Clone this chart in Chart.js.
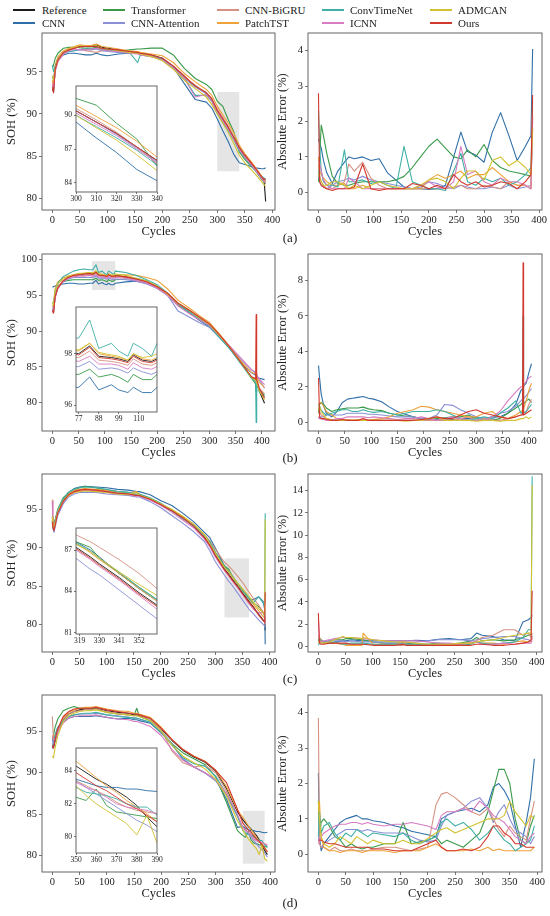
<!DOCTYPE html>
<html>
<head>
<meta charset="utf-8">
<script src="https://cdn.jsdelivr.net/npm/chart.js@4.4.1/dist/chart.umd.min.js"></script>
<style>
  body { margin: 0; background: #fff; width: 550px; height: 916px; position: relative; overflow: hidden;
         font-family: "Liberation Serif", "Times New Roman", serif; color: #222; }
  .cv { position: absolute; }
  .lab { position: absolute; font-size: 13px; transform: translate(-50%, -50%); white-space: nowrap; }
  .lg-line { position: absolute; height: 1.3px; width: 22px; }
  .lg-text { position: absolute; font-size: 11px; transform: translateY(-50%); white-space: nowrap; }
</style>
</head>
<body>
<script>
// ---- series ----
const seriesNames = ['Reference', 'CNN', 'Transformer', 'CNN-Attention', 'CNN-BiGRU', 'PatchTST', 'ConvTimeNet', 'ICNN', 'ADMCAN', 'Ours'];
const seriesColors = ['#1c1c1c', '#2f6fa8', '#3a9a4a', '#8a8fd6', '#d59282', '#eda23a', '#3fb0a5', '#d77cc0', '#d2c232', '#d2392e'];
const cycleTicks = [0, 50, 100, 150, 200, 250, 300, 350, 400];

// ---- (a) SOH ----
const cycA = [0, 2, 5, 10, 20, 30, 40, 50, 60, 70, 80, 90, 100, 120, 140, 155, 160, 180, 200, 220, 240, 260, 280, 290, 300, 310, 320, 330, 340, 350, 360, 370, 380, 385, 388];
const sohA_ref = [93.0, 92.6, 95.3, 96.4, 97.3, 97.6, 97.8, 98.0, 98.0, 98.0, 98.2, 97.9, 97.8, 97.6, 97.4, 97.3, 97.2, 97.0, 96.6, 95.6, 94.4, 93.3, 92.5, 91.7, 90.4, 89.4, 88.4, 87.2, 86.0, 85.1, 84.3, 83.5, 82.6, 82.2, 79.6];
const sohA_cnn = [94.5, 94.0, 95.6, 96.5, 97.0, 97.2, 97.2, 97.1, 97.0, 97.0, 97.2, 97.0, 96.9, 97.1, 97.2, 97.2, 97.1, 96.9, 96.6, 95.5, 93.6, 91.7, 91.4, 90.7, 89.4, 88.0, 86.7, 85.2, 84.2, 84.0, 83.8, 83.6, 83.5, 83.5, 83.6];
const sohA_trans = [95.5, 95.8, 96.6, 97.2, 97.8, 97.9, 97.9, 97.9, 97.8, 97.8, 97.9, 97.7, 97.6, 97.4, 97.6, 97.7, 97.7, 97.8, 97.8, 97.0, 95.4, 94.2, 93.5, 92.9, 91.5, 90.9, 89.3, 87.9, 85.5, 84.6, 83.9, 83.2, 82.3, 81.9, 81.8];
const sohA_attn = [93.5, 93.0, 95.5, 96.6, 97.2, 97.4, 97.5, 97.6, 97.6, 97.6, 97.7, 97.5, 97.4, 97.3, 97.2, 97.2, 97.1, 96.9, 96.4, 95.4, 94.2, 93.2, 92.4, 91.6, 90.4, 89.4, 88.3, 87.1, 85.9, 85.0, 84.2, 83.3, 82.4, 82.0, 81.9];
const sohA_bigru = [93.8, 93.2, 95.6, 96.6, 97.3, 97.6, 97.8, 98.0, 97.5, 97.4, 97.3, 97.5, 97.6, 97.5, 97.3, 97.2, 97.1, 96.9, 96.5, 95.5, 94.3, 93.4, 92.5, 91.8, 90.6, 89.6, 88.5, 87.2, 85.7, 84.9, 84.1, 83.3, 82.5, 82.1, 81.7];
const sohA_patch = [94.0, 93.5, 95.8, 96.8, 97.5, 97.8, 98.0, 98.2, 98.1, 98.1, 98.3, 98.0, 97.9, 97.7, 97.5, 97.4, 97.3, 97.1, 96.9, 96.1, 94.8, 93.8, 92.9, 92.2, 90.9, 89.9, 88.9, 87.7, 86.3, 85.3, 84.5, 83.6, 82.7, 82.3, 82.0];
const sohA_conv = [95.8, 95.0, 95.6, 96.5, 97.2, 97.4, 97.5, 97.7, 97.7, 97.7, 97.8, 97.6, 97.6, 97.5, 97.3, 96.1, 97.0, 96.8, 96.5, 95.5, 94.2, 92.2, 92.2, 91.5, 90.0, 89.0, 88.0, 86.9, 85.6, 84.8, 84.0, 83.3, 82.6, 82.4, 82.2];
const sohA_icnn = [93.5, 93.0, 95.0, 96.2, 97.1, 97.5, 97.7, 97.6, 97.6, 97.7, 97.8, 97.6, 97.5, 97.4, 97.2, 97.1, 97.0, 96.8, 96.4, 95.5, 94.2, 92.0, 92.3, 91.5, 90.2, 89.2, 88.2, 87.0, 85.8, 84.9, 84.1, 83.3, 82.4, 82.0, 82.0];
const sohA_admcan = [94.5, 94.0, 95.4, 96.5, 97.3, 97.7, 97.9, 98.1, 98.0, 98.0, 98.1, 97.8, 97.7, 97.5, 97.3, 97.2, 97.1, 96.8, 96.3, 95.3, 94.0, 93.0, 92.0, 91.1, 90.0, 88.9, 87.8, 86.5, 85.1, 84.2, 83.5, 82.8, 82.0, 81.6, 81.4];
const sohA_ours = [93.2, 92.5, 95.3, 96.4, 97.3, 97.6, 97.8, 98.0, 98.0, 98.0, 98.0, 97.8, 97.7, 97.6, 97.4, 97.3, 97.2, 97.0, 96.6, 95.7, 94.5, 93.3, 92.5, 91.8, 90.4, 89.4, 88.4, 87.2, 86.0, 85.1, 84.3, 83.5, 82.6, 82.2, 82.3];

// ---- (a) absolute error ----
const errCycA = [0, 2, 5, 9, 15, 25, 35, 47, 55, 65, 80, 95, 110, 125, 140, 155, 170, 185, 200, 215, 230, 245, 258, 270, 285, 300, 315, 330, 345, 360, 375, 385, 388];
const errA_cnn = [1.5, 1.4, 1.25, 0.9, 0.55, 0.25, 0.6, 0.85, 1.0, 0.95, 1.0, 0.9, 0.95, 0.55, 0.35, 0.15, 0.1, 0.1, 0.08, 0.1, 0.2, 1.0, 1.7, 1.15, 1.05, 0.85, 1.7, 2.25, 1.6, 0.9, 1.3, 1.6, 4.05];
const errA_trans = [0.3, 1.0, 1.9, 1.6, 1.1, 0.45, 0.25, 0.2, 0.2, 0.25, 0.3, 0.3, 0.3, 0.3, 0.35, 0.45, 0.7, 1.0, 1.3, 1.5, 1.25, 1.0, 0.95, 1.2, 1.0, 1.35, 0.9, 0.7, 0.6, 0.55, 0.5, 0.45, 2.0];
const errA_attn = [0.5, 0.3, 0.2, 0.15, 0.1, 0.2, 0.3, 0.35, 0.4, 0.35, 0.45, 0.35, 0.3, 0.25, 0.2, 0.15, 0.1, 0.15, 0.3, 0.25, 0.15, 0.1, 0.2, 0.15, 0.1, 0.1, 0.15, 0.1, 0.2, 0.1, 0.15, 0.2, 1.8];
const errA_bigru = [0.8, 0.5, 0.3, 0.2, 0.1, 0.1, 0.2, 0.3, 0.8, 0.6, 0.85, 0.4, 0.2, 0.1, 0.1, 0.1, 0.1, 0.1, 0.1, 0.1, 0.1, 0.15, 0.2, 0.1, 0.1, 0.2, 0.15, 0.1, 0.3, 0.2, 0.2, 0.1, 2.1];
const errA_patch = [1.0, 0.6, 0.5, 0.4, 0.3, 0.2, 0.2, 0.25, 0.1, 0.1, 0.2, 0.1, 0.1, 0.1, 0.1, 0.1, 0.1, 0.1, 0.35, 0.5, 0.4, 0.5, 0.6, 0.4, 0.5, 0.5, 0.7, 0.5, 0.3, 0.2, 0.2, 0.1, 2.4];
const errA_conv = [2.3, 1.3, 0.6, 0.3, 0.2, 0.2, 0.15, 1.2, 0.3, 0.3, 0.35, 0.25, 0.3, 0.2, 0.1, 1.3, 0.3, 0.2, 0.1, 0.1, 0.05, 0.6, 1.1, 0.3, 0.2, 0.4, 0.3, 0.4, 0.2, 0.3, 0.5, 0.7, 2.6];
const errA_icnn = [0.9, 0.8, 0.6, 0.35, 0.2, 0.1, 0.1, 0.1, 0.4, 0.3, 0.1, 0.1, 0.1, 0.1, 0.1, 0.1, 0.1, 0.2, 0.3, 0.15, 0.1, 0.3, 1.3, 0.5, 0.6, 0.3, 0.2, 0.4, 0.3, 0.3, 0.2, 0.1, 2.2];
const errA_admcan = [0.5, 0.4, 0.3, 0.2, 0.2, 0.3, 0.3, 0.2, 0.1, 0.2, 0.1, 0.2, 0.3, 0.2, 0.15, 0.1, 0.1, 0.2, 0.35, 0.4, 0.3, 0.1, 0.4, 0.6, 0.6, 0.35, 0.9, 1.0, 0.75, 0.9, 0.7, 0.5, 1.8];
const errA_ours = [2.8, 0.3, 0.2, 0.15, 0.1, 0.05, 0.1, 0.1, 0.1, 0.15, 0.8, 0.1, 0.05, 0.1, 0.1, 0.1, 0.25, 0.2, 0.1, 0.2, 0.1, 0.5, 0.3, 0.2, 0.3, 0.15, 0.2, 0.3, 0.25, 0.1, 0.3, 0.5, 2.75];

// ---- (b) SOH ----
const cycB = [0, 2, 5, 10, 20, 30, 40, 50, 60, 70, 77, 83, 88, 95, 99, 104, 107, 112, 117, 120, 140, 160, 180, 200, 220, 240, 260, 280, 300, 320, 340, 360, 380, 388, 389, 390, 395, 405];
const sohB_ref = [93.0, 92.6, 94.8, 96.0, 97.0, 97.5, 97.8, 97.9, 98.0, 98.1, 98.0, 98.3, 97.9, 97.85, 97.8, 97.7, 97.95, 97.75, 97.7, 97.8, 97.6, 97.3, 96.9, 96.2, 95.2, 93.8, 92.9, 91.9, 90.9, 89.3, 87.6, 85.6, 83.5, 83.3, 83.2, 83.0, 81.6, 79.9];
const sohB_cnn = [96.2, 96.2, 96.3, 96.4, 96.6, 96.7, 96.7, 96.6, 96.6, 96.7, 96.7, 97.1, 96.6, 96.8, 96.6, 96.5, 96.7, 96.5, 96.5, 96.7, 96.9, 97.0, 96.7, 96.0, 95.0, 93.6, 92.7, 91.5, 90.6, 89.1, 87.4, 85.5, 84.2, 83.8, 83.7, 83.6, 83.4, 83.2];
const sohB_trans = [93.5, 93.5, 95.0, 96.2, 96.9, 97.1, 97.2, 97.2, 97.2, 97.2, 97.2, 97.4, 97.1, 97.2, 97.1, 96.9, 97.2, 97.0, 97.0, 97.2, 97.3, 97.4, 97.0, 96.1, 95.0, 93.6, 92.7, 91.7, 90.8, 89.4, 87.7, 85.7, 83.4, 82.6, 81.5, 83.0, 81.8, 81.0];
const sohB_attn = [93.2, 93.0, 94.8, 96.0, 96.9, 97.3, 97.5, 97.5, 97.5, 97.5, 97.5, 97.7, 97.4, 97.45, 97.4, 97.25, 97.45, 97.3, 97.2, 97.3, 97.2, 97.0, 96.6, 96.0, 95.0, 92.8, 92.0, 91.2, 90.5, 89.0, 87.7, 86.0, 84.6, 84.2, 84.0, 83.8, 83.2, 82.0];
const sohB_bigru = [93.5, 93.2, 95.0, 96.2, 97.0, 97.5, 97.7, 97.8, 97.8, 97.9, 97.85, 98.1, 97.75, 97.7, 97.65, 97.55, 97.8, 97.6, 97.55, 97.65, 97.5, 97.2, 96.8, 96.1, 95.1, 93.7, 92.8, 91.8, 90.8, 89.2, 87.5, 85.5, 83.6, 83.4, 83.4, 83.2, 82.0, 81.2];
const sohB_patch = [94.0, 94.0, 95.9, 96.9, 97.4, 97.7, 97.9, 98.0, 98.1, 98.2, 98.1, 98.4, 98.0, 97.9, 97.85, 97.75, 98.0, 97.8, 97.75, 97.85, 97.9, 97.8, 97.5, 97.1, 95.9, 94.3, 93.3, 92.2, 91.2, 89.5, 87.7, 85.8, 84.2, 84.0, 83.9, 83.6, 82.8, 82.1];
const sohB_conv = [94.0, 93.8, 95.5, 96.7, 97.6, 98.0, 98.4, 98.6, 98.7, 98.6, 98.6, 99.3, 98.2, 98.4, 98.1, 97.9, 98.4, 98.2, 97.9, 98.4, 98.2, 97.8, 97.2, 96.5, 95.3, 93.8, 92.7, 91.7, 90.7, 89.0, 87.4, 85.4, 83.4, 83.0, 77.2, 82.8, 81.5, 80.8];
const sohB_icnn = [93.0, 92.8, 94.6, 95.9, 96.9, 97.4, 97.6, 97.7, 97.7, 97.8, 97.7, 97.9, 97.6, 97.6, 97.55, 97.4, 97.65, 97.45, 97.4, 97.5, 97.4, 97.1, 96.7, 96.0, 95.0, 93.5, 92.5, 91.6, 90.8, 89.3, 87.8, 86.2, 84.6, 84.1, 84.0, 83.8, 83.3, 82.5];
const sohB_admcan = [94.0, 93.5, 95.6, 96.6, 97.3, 97.7, 97.9, 98.1, 98.1, 98.2, 98.15, 98.4, 98.05, 97.95, 97.9, 97.75, 98.0, 97.85, 97.9, 98.0, 97.8, 97.4, 97.0, 96.3, 95.2, 93.9, 93.0, 91.9, 90.9, 89.3, 87.6, 85.6, 83.5, 83.1, 83.0, 83.0, 81.7, 80.3];
const sohB_ours = [92.8, 92.5, 94.8, 96.0, 97.0, 97.5, 97.8, 97.9, 98.0, 98.05, 97.95, 98.25, 97.85, 97.8, 97.75, 97.65, 97.9, 97.7, 97.65, 97.75, 97.6, 97.3, 96.9, 96.2, 95.3, 93.9, 93.0, 92.0, 91.0, 89.4, 87.6, 85.6, 83.6, 83.3, 92.3, 83.2, 82.0, 80.6];

// ---- (b) absolute error ----
const errCycB = [0, 2, 5, 10, 15, 25, 35, 45, 55, 65, 75, 85, 95, 105, 120, 135, 150, 165, 180, 195, 210, 225, 240, 255, 270, 285, 300, 315, 330, 345, 360, 375, 385, 388, 389, 390, 395, 400, 405];
const errB_cnn = [3.2, 2.5, 1.6, 0.9, 0.5, 0.3, 0.6, 1.1, 1.3, 1.35, 1.4, 1.45, 1.35, 1.3, 1.15, 0.85, 0.6, 0.45, 0.3, 0.2, 0.1, 0.15, 0.1, 0.15, 0.2, 0.2, 0.3, 0.2, 0.3, 0.3, 0.5, 1.0, 1.8, 1.9, 2.0, 2.0, 2.2, 2.8, 3.3];
const errB_trans = [0.5, 1.0, 1.1, 1.0, 0.8, 0.6, 0.7, 0.75, 0.8, 0.8, 0.8, 0.85, 0.75, 0.7, 0.65, 0.5, 0.4, 0.35, 0.3, 0.2, 0.15, 0.2, 0.25, 0.3, 0.3, 0.4, 0.2, 0.1, 0.1, 0.2, 0.5, 0.8, 1.0, 1.1, 1.0, 1.0, 1.2, 1.3, 1.1];
const errB_attn = [0.2, 0.3, 0.3, 0.3, 0.4, 0.4, 0.4, 0.4, 0.5, 0.5, 0.5, 0.5, 0.45, 0.45, 0.4, 0.35, 0.3, 0.3, 0.3, 0.2, 0.2, 0.4, 1.0, 0.95, 0.7, 0.5, 0.3, 0.2, 0.1, 0.5, 0.6, 0.9, 1.2, 1.3, 1.3, 1.3, 1.5, 1.7, 1.9];
const errB_bigru = [0.5, 0.6, 0.4, 0.3, 0.2, 0.15, 0.1, 0.1, 0.15, 0.1, 0.1, 0.1, 0.1, 0.15, 0.1, 0.1, 0.1, 0.1, 0.1, 0.1, 0.1, 0.1, 0.1, 0.1, 0.2, 0.3, 0.1, 0.2, 0.1, 0.1, 0.2, 0.3, 0.4, 0.5, 0.5, 0.5, 0.6, 1.0, 1.3];
const errB_patch = [1.0, 1.1, 1.1, 0.9, 0.6, 0.4, 0.2, 0.1, 0.1, 0.1, 0.1, 0.1, 0.1, 0.15, 0.2, 0.3, 0.5, 0.6, 0.7, 0.9, 0.85, 0.7, 0.6, 0.5, 0.4, 0.3, 0.3, 0.5, 0.6, 0.3, 0.2, 0.4, 0.6, 0.7, 0.7, 0.7, 1.2, 1.8, 2.2];
const errB_conv = [1.0, 0.9, 0.7, 0.5, 0.4, 0.5, 0.6, 0.7, 0.7, 0.6, 0.6, 0.7, 0.6, 0.55, 0.6, 0.5, 0.4, 0.5, 0.6, 0.6, 0.6, 0.7, 0.6, 0.4, 0.2, 0.1, 0.2, 0.3, 0.2, 0.5, 0.8, 1.2, 0.5, 0.6, 6.0, 0.5, 0.6, 0.8, 1.0];
const errB_icnn = [0.3, 0.2, 0.2, 0.15, 0.1, 0.1, 0.2, 0.2, 0.3, 0.3, 0.3, 0.3, 0.25, 0.3, 0.25, 0.2, 0.15, 0.2, 0.2, 0.3, 0.2, 0.1, 0.2, 0.3, 0.2, 0.1, 0.1, 0.1, 0.3, 0.6, 1.2, 1.7, 2.0, 2.0, 2.0, 2.1, 2.3, 2.5, 2.6];
const errB_admcan = [0.7, 0.9, 0.6, 0.4, 0.2, 0.1, 0.1, 0.1, 0.1, 0.1, 0.15, 0.1, 0.1, 0.1, 0.1, 0.1, 0.1, 0.05, 0.1, 0.1, 0.2, 0.3, 0.1, 0.1, 0.1, 0.1, 0.05, 0.1, 0.1, 0.05, 0.1, 0.1, 0.2, 0.2, 0.2, 0.2, 0.3, 0.2, 0.3];
const errB_ours = [2.5, 0.3, 0.2, 0.2, 0.15, 0.1, 0.1, 0.15, 0.1, 0.1, 0.1, 0.2, 0.1, 0.1, 0.1, 0.1, 0.1, 0.1, 0.1, 0.15, 0.2, 0.3, 0.2, 0.2, 0.4, 0.6, 0.7, 0.5, 0.4, 0.3, 0.2, 0.3, 0.4, 0.4, 9.0, 0.4, 0.5, 0.6, 0.7];

// ---- (c) SOH ----
const cycC = [0, 1, 3, 10, 20, 30, 40, 50, 60, 80, 100, 120, 140, 155, 160, 180, 200, 220, 240, 260, 280, 290, 300, 317, 325, 330, 341, 352, 362, 370, 380, 388, 391, 392];
const sohC_ref = [93.5, 92.8, 92.3, 94.6, 96.0, 96.9, 97.3, 97.5, 97.6, 97.5, 97.3, 97.1, 97.0, 96.8, 96.8, 96.3, 95.6, 94.8, 93.9, 92.8, 91.3, 90.3, 89.0, 87.2, 86.5, 86.0, 85.0, 83.9, 83.0, 82.3, 81.3, 80.6, 80.4, 79.2];
const sohC_cnn = [94.0, 93.5, 93.0, 94.8, 96.3, 97.2, 97.7, 97.9, 98.0, 97.9, 97.8, 97.6, 97.5, 97.3, 97.3, 96.9, 96.1, 95.5, 94.5, 93.4, 92.0, 91.3, 90.0, 87.6, 87.0, 86.5, 85.3, 84.2, 83.3, 83.2, 83.6, 83.0, 82.0, 77.4];
const sohC_trans = [94.0, 93.5, 93.0, 95.0, 96.5, 97.2, 97.6, 97.8, 98.0, 97.8, 97.5, 97.3, 97.2, 96.9, 96.9, 96.4, 95.7, 94.9, 93.8, 92.9, 91.6, 90.8, 89.4, 87.6, 87.2, 86.4, 85.3, 84.3, 83.4, 82.8, 82.3, 81.6, 81.0, 80.0];
const sohC_attn = [93.0, 92.5, 92.0, 94.2, 95.7, 96.6, 97.0, 97.2, 97.2, 97.2, 97.0, 96.9, 96.8, 96.6, 96.6, 96.0, 95.2, 94.2, 93.2, 92.1, 90.8, 89.6, 88.2, 86.4, 85.6, 85.2, 84.1, 83.0, 82.0, 81.4, 80.6, 80.0, 79.8, 79.6];
const sohC_bigru = [96.2, 93.5, 92.8, 94.9, 96.3, 97.1, 97.5, 97.6, 97.6, 97.5, 97.4, 97.2, 97.1, 96.9, 96.9, 96.4, 95.7, 94.9, 94.0, 93.0, 91.7, 90.9, 89.8, 88.1, 87.6, 87.2, 86.3, 85.3, 84.2, 83.4, 82.5, 81.6, 81.2, 80.4];
const sohC_patch = [93.8, 93.0, 92.5, 94.8, 96.2, 97.0, 97.4, 97.6, 97.7, 97.6, 97.5, 97.3, 97.1, 97.3, 97.0, 96.4, 95.7, 94.9, 94.1, 93.0, 91.6, 90.6, 89.3, 87.5, 86.8, 86.3, 85.3, 84.2, 83.3, 82.6, 81.8, 81.0, 80.8, 80.0];
const sohC_conv = [93.5, 93.0, 92.7, 94.9, 96.3, 97.2, 97.6, 97.8, 97.9, 97.8, 97.6, 97.3, 97.2, 97.0, 97.0, 96.5, 95.8, 94.8, 93.8, 92.9, 91.5, 90.8, 89.4, 87.5, 86.9, 86.4, 85.4, 84.3, 83.4, 82.8, 83.6, 82.8, 82.5, 94.5];
const sohC_icnn = [96.0, 93.0, 92.5, 94.5, 95.9, 96.8, 97.2, 97.4, 97.5, 97.4, 97.2, 97.0, 96.9, 96.7, 96.7, 96.2, 95.5, 94.6, 93.6, 92.6, 91.1, 90.1, 88.8, 87.0, 86.3, 85.8, 84.8, 83.7, 82.7, 82.0, 81.5, 81.5, 81.2, 80.0];
const sohC_admcan = [94.0, 93.2, 92.6, 94.6, 96.0, 96.8, 97.2, 97.3, 97.4, 97.3, 97.2, 97.0, 96.9, 97.2, 96.8, 96.4, 95.7, 95.0, 94.1, 93.1, 91.7, 90.5, 89.3, 87.4, 86.9, 86.4, 85.4, 84.5, 83.7, 82.9, 82.1, 81.5, 81.2, 93.7];
const sohC_ours = [93.3, 92.7, 92.2, 94.5, 96.0, 96.9, 97.3, 97.5, 97.6, 97.5, 97.3, 97.1, 97.0, 96.8, 96.8, 96.3, 95.6, 94.8, 93.9, 92.8, 91.3, 90.3, 89.0, 87.1, 86.4, 85.9, 84.9, 83.8, 82.9, 82.2, 81.2, 80.5, 80.3, 84.2];

// ---- (c) absolute error ----
const errCycC = [0, 2, 5, 10, 20, 30, 45, 50, 60, 80, 82, 100, 120, 140, 155, 160, 180, 200, 220, 240, 260, 280, 290, 300, 320, 340, 360, 375, 385, 390, 392];
const errC_cnn = [0.5, 0.7, 0.4, 0.3, 0.3, 0.4, 0.5, 0.5, 0.6, 0.5, 0.5, 0.5, 0.5, 0.5, 0.5, 0.5, 0.55, 0.5, 0.65, 0.7, 0.6, 0.7, 1.2, 1.0, 0.9, 0.6, 0.5, 2.2, 2.4, 2.6, 2.8];
const errC_trans = [0.5, 0.8, 0.6, 0.4, 0.5, 0.6, 0.6, 0.7, 0.7, 0.6, 0.6, 0.4, 0.3, 0.3, 0.3, 0.3, 0.2, 0.2, 0.3, 0.2, 0.3, 0.5, 0.8, 0.5, 0.6, 0.5, 0.6, 0.8, 1.0, 1.1, 0.8];
const errC_attn = [0.5, 0.4, 0.3, 0.4, 0.5, 0.5, 0.5, 0.4, 0.5, 0.4, 0.4, 0.4, 0.3, 0.3, 0.3, 0.3, 0.4, 0.5, 0.6, 0.6, 0.6, 0.5, 0.6, 0.7, 0.8, 0.9, 0.9, 0.7, 0.6, 0.5, 0.4];
const errC_bigru = [1.0, 0.8, 0.5, 0.3, 0.3, 0.3, 0.2, 0.2, 0.2, 0.2, 0.2, 0.15, 0.1, 0.1, 0.1, 0.15, 0.1, 0.1, 0.1, 0.1, 0.2, 0.3, 0.5, 0.8, 1.0, 1.5, 1.5, 1.0, 1.2, 0.8, 1.2];
const errC_patch = [0.3, 0.4, 0.4, 0.3, 0.3, 0.3, 0.2, 0.1, 0.1, 0.1, 1.2, 0.2, 0.2, 0.1, 0.5, 0.2, 0.1, 0.1, 0.1, 0.2, 0.2, 0.3, 0.4, 0.3, 0.3, 0.2, 0.4, 0.5, 0.4, 0.5, 0.8];
const errC_conv = [0.1, 0.3, 0.4, 0.4, 0.3, 0.4, 0.2, 0.2, 0.3, 0.3, 0.3, 0.2, 0.2, 0.2, 0.2, 0.2, 0.2, 0.2, 0.1, 0.1, 0.1, 0.2, 0.4, 0.3, 0.2, 0.3, 0.4, 0.8, 1.5, 1.5, 15.3];
const errC_icnn = [2.5, 0.5, 0.4, 0.5, 0.6, 0.7, 0.8, 0.8, 0.8, 0.7, 0.7, 0.6, 0.5, 0.5, 0.5, 0.5, 0.5, 0.4, 0.3, 0.3, 0.2, 0.4, 0.4, 0.2, 0.2, 0.3, 0.2, 0.3, 0.3, 0.3, 0.8];
const errC_admcan = [0.5, 0.4, 0.3, 0.3, 0.4, 0.6, 0.9, 0.8, 0.8, 0.7, 0.8, 0.6, 0.5, 0.4, 0.4, 0.4, 0.3, 0.2, 0.2, 0.2, 0.3, 0.3, 0.4, 0.5, 0.6, 0.8, 1.0, 1.1, 1.2, 1.2, 14.5];
const errC_ours = [3.0, 0.3, 0.2, 0.2, 0.3, 0.3, 0.3, 0.3, 0.2, 0.2, 0.2, 0.1, 0.1, 0.1, 0.2, 0.1, 0.1, 0.1, 0.1, 0.1, 0.1, 0.1, 0.2, 0.2, 0.1, 0.1, 0.2, 0.3, 0.4, 0.6, 5.0];

// ---- (d) SOH ----
const cycD = [0, 2, 5, 10, 20, 30, 40, 50, 60, 70, 80, 100, 120, 140, 150, 155, 160, 180, 200, 220, 240, 260, 280, 300, 320, 340, 350, 355, 360, 365, 370, 375, 380, 385, 390, 395];
const sohD_ref = [93.0, 93.0, 93.8, 95.0, 96.5, 97.1, 97.4, 97.6, 97.7, 97.7, 97.8, 97.5, 97.3, 97.2, 97.0, 97.0, 96.9, 96.5, 95.3, 93.9, 92.7, 91.9, 91.3, 90.2, 88.1, 85.3, 84.3, 83.9, 83.5, 83.2, 82.8, 82.4, 81.9, 81.2, 80.6, 80.1];
const sohD_cnn = [93.0, 93.8, 94.5, 95.5, 96.2, 96.6, 96.8, 96.8, 96.8, 96.8, 96.9, 96.7, 96.5, 96.6, 96.4, 96.4, 96.3, 96.0, 94.8, 93.5, 91.6, 90.7, 90.0, 89.2, 86.8, 83.4, 83.5, 83.3, 83.1, 83.0, 83.0, 82.9, 82.9, 82.8, 82.75, 82.8];
const sohD_trans = [94.0, 94.5, 95.5, 96.5, 97.5, 97.8, 98.0, 97.8, 97.8, 97.7, 97.8, 97.3, 97.1, 97.0, 96.9, 97.8, 96.8, 96.3, 95.0, 93.5, 92.4, 91.7, 91.0, 89.5, 86.4, 83.0, 82.4, 82.2, 82.9, 81.9, 81.5, 81.4, 81.3, 81.2, 81.1, 81.0];
const sohD_attn = [94.0, 93.5, 94.0, 95.0, 96.2, 96.8, 97.0, 97.1, 97.1, 97.1, 97.2, 97.0, 96.9, 96.7, 96.6, 96.6, 96.5, 96.1, 95.1, 93.4, 91.7, 90.7, 90.0, 89.0, 87.3, 84.7, 83.4, 83.0, 82.6, 82.2, 81.8, 81.4, 81.0, 80.7, 80.3, 79.8];
const sohD_bigru = [96.8, 94.0, 94.0, 95.2, 96.5, 97.1, 97.4, 97.5, 97.6, 97.6, 97.7, 97.4, 97.2, 97.0, 96.9, 96.9, 96.8, 96.5, 95.2, 92.6, 91.2, 90.7, 90.9, 90.0, 87.8, 84.8, 83.4, 83.1, 82.8, 82.5, 82.1, 81.8, 81.6, 81.5, 81.4, 81.3];
const sohD_patch = [94.0, 94.5, 94.5, 95.3, 96.7, 97.3, 97.6, 97.8, 97.9, 97.9, 98.0, 97.7, 97.5, 97.4, 97.2, 97.2, 97.1, 96.7, 95.5, 94.0, 92.8, 92.0, 91.4, 90.3, 88.3, 85.5, 84.6, 84.1, 83.6, 83.1, 82.7, 82.2, 81.8, 81.4, 80.9, 80.5];
const sohD_conv = [94.0, 94.0, 94.5, 95.5, 96.3, 96.8, 97.0, 97.1, 97.2, 97.2, 97.3, 97.0, 96.8, 96.7, 96.6, 96.6, 96.5, 96.1, 94.9, 93.3, 91.8, 91.1, 90.8, 89.6, 87.4, 84.8, 83.0, 82.7, 82.6, 82.5, 82.3, 82.0, 81.8, 81.8, 81.3, 81.0];
const sohD_icnn = [94.5, 94.0, 94.0, 95.0, 96.0, 96.6, 96.8, 96.9, 96.9, 96.9, 97.0, 96.7, 96.5, 96.4, 96.2, 96.2, 96.1, 95.6, 94.5, 92.8, 91.5, 90.7, 90.0, 89.2, 87.5, 85.0, 83.3, 83.0, 82.8, 82.4, 82.0, 81.8, 81.7, 81.6, 81.4, 81.2];
const sohD_admcan = [92.0, 91.8, 93.0, 94.5, 96.2, 96.9, 97.2, 97.4, 97.5, 97.5, 97.6, 97.3, 97.1, 97.0, 96.9, 96.9, 96.8, 96.3, 95.0, 93.3, 92.0, 91.2, 90.5, 89.2, 87.2, 84.2, 83.1, 82.5, 82.0, 81.6, 81.2, 80.8, 80.1, 81.3, 79.6, 79.3];
const sohD_ours = [93.3, 93.0, 94.0, 95.3, 96.8, 97.4, 97.7, 97.8, 97.8, 97.8, 97.9, 97.6, 97.4, 97.2, 97.1, 97.1, 97.0, 96.6, 95.4, 94.0, 92.8, 92.0, 91.4, 90.3, 88.8, 85.6, 83.9, 83.5, 83.1, 82.8, 82.4, 82.0, 81.7, 81.3, 80.9, 80.4];

// ---- (d) absolute error ----
const errCycD = [0, 2, 5, 10, 20, 30, 40, 50, 60, 70, 80, 90, 100, 120, 140, 155, 170, 185, 200, 215, 225, 235, 250, 265, 280, 295, 310, 320, 330, 340, 350, 360, 370, 380, 388, 395];
const errD_cnn = [2.3, 0.5, 0.1, 0.3, 0.5, 0.7, 0.9, 1.0, 1.05, 1.1, 1.0, 1.0, 0.95, 0.9, 0.8, 0.75, 0.65, 0.6, 0.55, 0.5, 1.0, 1.1, 1.2, 1.25, 1.3, 1.2, 1.4, 1.9, 2.0, 1.8, 1.5, 0.8, 0.2, 0.9, 1.6, 2.7];
const errD_trans = [1.5, 0.5, 0.9, 1.0, 0.8, 0.5, 0.4, 0.2, 0.3, 0.2, 0.15, 0.2, 0.2, 0.3, 0.3, 0.9, 0.3, 0.35, 0.4, 0.5, 0.3, 0.4, 0.3, 0.2, 0.4, 0.6, 1.2, 1.8, 2.4, 2.4, 2.0, 1.0, 0.4, 0.3, 0.8, 1.1];
const errD_attn = [0.5, 0.3, 0.2, 0.3, 0.4, 0.5, 0.6, 0.7, 0.7, 0.7, 0.65, 0.7, 0.65, 0.6, 0.6, 0.6, 0.5, 0.4, 0.35, 0.4, 0.8, 1.1, 1.2, 1.3, 1.5, 1.6, 1.3, 0.9, 1.2, 1.4, 1.0, 0.7, 0.6, 0.5, 0.3, 0.5];
const errD_bigru = [3.85, 0.3, 0.2, 0.2, 0.1, 0.2, 0.1, 0.1, 0.15, 0.1, 0.1, 0.1, 0.15, 0.2, 0.2, 0.15, 0.1, 0.15, 0.2, 1.4, 1.7, 1.75, 1.6, 1.4, 1.2, 1.1, 1.3, 1.0, 0.7, 0.5, 0.8, 0.6, 0.5, 0.4, 1.0, 1.5];
const errD_patch = [1.2, 1.5, 0.5, 0.2, 0.1, 0.1, 0.05, 0.1, 0.1, 0.1, 0.05, 0.1, 0.1, 0.1, 0.05, 0.1, 0.1, 0.1, 0.2, 0.3, 0.2, 0.1, 0.1, 0.1, 0.15, 0.1, 0.2, 0.1, 0.15, 0.1, 0.1, 0.1, 0.1, 0.1, 0.1, 0.2];
const errD_conv = [0.5, 1.2, 0.6, 0.8, 0.9, 0.6, 0.4, 0.6, 0.5, 0.7, 0.6, 0.5, 0.6, 0.55, 0.5, 0.6, 0.4, 0.3, 0.4, 0.5, 0.9, 1.0, 0.8, 0.9, 0.7, 0.4, 0.6, 0.8, 0.6, 0.4, 0.3, 0.1, 0.2, 0.3, 0.4, 0.8];
const errD_icnn = [0.3, 0.4, 0.5, 0.6, 0.7, 0.8, 0.85, 0.85, 0.9, 0.9, 0.85, 0.9, 0.85, 0.8, 0.85, 0.85, 0.9, 0.85, 0.8, 0.7, 1.1, 1.2, 1.2, 1.3, 1.2, 1.5, 1.3, 1.1, 1.0, 0.9, 0.7, 0.5, 0.4, 0.3, 0.5, 0.6];
const errD_admcan = [1.5, 1.0, 0.5, 0.3, 0.2, 0.3, 0.5, 0.4, 0.3, 0.5, 0.4, 0.3, 0.4, 0.3, 0.3, 0.4, 0.3, 0.3, 0.45, 0.6, 0.7, 0.75, 0.6, 0.7, 0.8, 0.9, 1.0, 1.0, 1.0, 1.1, 1.5, 1.2, 1.0, 0.8, 1.1, 1.0];
const errD_ours = [0.4, 0.4, 0.4, 0.35, 0.3, 0.3, 0.25, 0.2, 0.2, 0.2, 0.2, 0.2, 0.15, 0.15, 0.1, 0.1, 0.1, 0.2, 0.3, 0.4, 0.2, 0.1, 0.1, 0.15, 0.1, 0.2, 0.5, 0.8, 0.8, 0.6, 0.5, 0.3, 0.3, 0.2, 0.2, 0.2];

// ---- tables for the panels ----
const rowsData = [
  { soh: [sohA_ref, sohA_cnn, sohA_trans, sohA_attn, sohA_bigru, sohA_patch, sohA_conv, sohA_icnn, sohA_admcan, sohA_ours], cyc: cycA,
    err: [errA_cnn, errA_trans, errA_attn, errA_bigru, errA_patch, errA_conv, errA_icnn, errA_admcan, errA_ours], errCyc: errCycA },
  { soh: [sohB_ref, sohB_cnn, sohB_trans, sohB_attn, sohB_bigru, sohB_patch, sohB_conv, sohB_icnn, sohB_admcan, sohB_ours], cyc: cycB,
    err: [errB_cnn, errB_trans, errB_attn, errB_bigru, errB_patch, errB_conv, errB_icnn, errB_admcan, errB_ours], errCyc: errCycB },
  { soh: [sohC_ref, sohC_cnn, sohC_trans, sohC_attn, sohC_bigru, sohC_patch, sohC_conv, sohC_icnn, sohC_admcan, sohC_ours], cyc: cycC,
    err: [errC_cnn, errC_trans, errC_attn, errC_bigru, errC_patch, errC_conv, errC_icnn, errC_admcan, errC_ours], errCyc: errCycC },
  { soh: [sohD_ref, sohD_cnn, sohD_trans, sohD_attn, sohD_bigru, sohD_patch, sohD_conv, sohD_icnn, sohD_admcan, sohD_ours], cyc: cycD,
    err: [errD_cnn, errD_trans, errD_attn, errD_bigru, errD_patch, errD_conv, errD_icnn, errD_admcan, errD_ours], errCyc: errCycD }
];

// axis ranges and layout per row
const rowsLayout = [
  { top: 33, bottom: 210, x: [-19, 405], soh: [78.6, 99.6], sohTicks: [80, 85, 90, 95], err: [-0.5, 4.5], errTicks: [0, 1, 2, 3, 4],
    inset: { t: 86, b: 192, x: [300, 340], xt: [300, 310, 320, 330, 340], y: [83.2, 92.6], yt: [84, 87, 90] }, tag: '(a)', tagY: 238 },
  { top: 254, bottom: 431, x: [-20, 425], soh: [76.0, 100.8], sohTicks: [80, 85, 90, 95, 100], err: [-0.5, 9.5], errTicks: [0, 2, 4, 6, 8],
    inset: { t: 307, b: 412, x: [75.5, 120], xt: [77, 88, 99, 110], y: [95.75, 99.8], yt: [96, 98] }, tag: '(b)', tagY: 458 },
  { top: 474, bottom: 652, x: [-19, 410], soh: [76.4, 99.6], sohTicks: [80, 85, 90, 95], err: [-0.5, 15.5], errTicks: [0, 2, 4, 6, 8, 10, 12, 14],
    inset: { t: 528, b: 634, x: [317, 362], xt: [319, 330, 341, 352], y: [80.9, 88.6], yt: [81, 84, 87] }, tag: '(c)', tagY: 679 },
  { top: 695, bottom: 872, x: [-19, 409], soh: [78.0, 99.4], sohTicks: [80, 85, 90, 95], err: [-0.5, 4.5], errTicks: [0, 1, 2, 3, 4],
    inset: { t: 748, b: 853, x: [350, 390], xt: [350, 360, 370, 380, 390], y: [79.0, 85.4], yt: [80, 82, 84] }, tag: '(d)', tagY: 903 }
];

Chart.defaults.font.family = '"Liberation Serif", "Times New Roman", serif';
Chart.defaults.color = '#222';

function panelPlugin(o) {
  return {
    id: 'panelDeco',
    beforeDraw(chart) {
      if (!o.inset) return;
      const a = chart.chartArea, ctx = chart.ctx;
      ctx.save();
      ctx.fillStyle = '#ffffff';
      ctx.fillRect(a.left, a.top, a.right - a.left, a.bottom - a.top);
      ctx.restore();
    },
    beforeDatasetsDraw(chart) {
      if (!o.shade) return;
      const sx = chart.scales.x, sy = chart.scales.y, ctx = chart.ctx;
      const x0 = sx.getPixelForValue(o.shade.x[0]), x1 = sx.getPixelForValue(o.shade.x[1]);
      const y0 = sy.getPixelForValue(o.shade.y[1]), y1 = sy.getPixelForValue(o.shade.y[0]);
      ctx.save();
      ctx.fillStyle = '#e5e5e5';
      ctx.fillRect(x0, y0, x1 - x0, y1 - y0);
      ctx.restore();
    },
    afterDraw(chart) {
      const a = chart.chartArea, ctx = chart.ctx;
      ctx.save();
      ctx.strokeStyle = '#555';
      ctx.lineWidth = 0.9;
      ctx.strokeRect(a.left, a.top, a.right - a.left, a.bottom - a.top);
      ctx.restore();
    }
  };
}

function makePanel(o) {
  const c = document.createElement('canvas');
  c.className = 'cv';
  c.width = o.w; c.height = o.h;
  c.style.left = o.x + 'px'; c.style.top = o.y + 'px';
  c.style.width = o.w + 'px'; c.style.height = o.h + 'px';
  document.body.appendChild(c);

  const yW = o.box.l - o.x;
  const xH = o.y + o.h - o.box.b;
  const n = o.lines.length;
  const datasets = o.lines.map((ln, i) => ({
    label: ln.name,
    data: o.xs.map((x, k) => ({ x: x, y: ln.ys[k] })),
    borderColor: ln.color,
    borderWidth: o.lw,
    borderJoinStyle: 'round',
    pointRadius: 0,
    tension: 0,
    fill: false,
    order: n - i
  }));

  new Chart(c, {
    type: 'line',
    data: { datasets: datasets },
    options: {
      responsive: false,
      animation: false,
      events: [],
      layout: { padding: { top: o.box.t - o.y, right: o.x + o.w - o.box.r, left: 0, bottom: 0 } },
      plugins: { legend: { display: false }, tooltip: { enabled: false } },
      scales: {
        x: {
          type: 'linear', min: o.xr[0], max: o.xr[1],
          afterBuildTicks: ax => { ax.ticks = o.xt.map(v => ({ value: v })); },
          afterFit: ax => { ax.height = xH; ax.paddingLeft = 0; ax.paddingRight = 0; },
          ticks: { font: { size: o.fs }, padding: 1, maxRotation: 0, autoSkip: false, color: '#222' },
          grid: { drawOnChartArea: false, tickLength: o.tl, color: '#555', lineWidth: 0.8 },
          border: { display: false },
          title: o.xTitle ? { display: true, text: o.xTitle, font: { size: 12.5 }, padding: { top: 0, bottom: 1 }, color: '#222' } : { display: false }
        },
        y: {
          type: 'linear', min: o.yr[0], max: o.yr[1],
          afterBuildTicks: ax => { ax.ticks = o.yt.map(v => ({ value: v })); },
          afterFit: ax => { ax.width = yW; ax.paddingTop = 0; ax.paddingBottom = 0; },
          ticks: { font: { size: o.fs }, padding: 2, autoSkip: false, color: '#222' },
          grid: { drawOnChartArea: false, tickLength: o.tl, color: '#555', lineWidth: 0.8 },
          border: { display: false },
          title: o.yTitle ? { display: true, text: o.yTitle, font: { size: 12.5 }, padding: { top: o.yTitlePad, bottom: 0 }, color: '#222' } : { display: false }
        }
      }
    },
    plugins: [panelPlugin(o)]
  });
}

rowsLayout.forEach((r, ri) => {
  const d = rowsData[ri];
  const sohLines = d.soh.map((ys, i) => ({ name: seriesNames[i], color: seriesColors[i], ys: ys }));
  const errLines = d.err.map((ys, i) => ({ name: seriesNames[i + 1], color: seriesColors[i + 1], ys: ys }));

  // left: SOH
  makePanel({
    x: 0, y: r.top - 8, w: 282, h: (r.bottom - r.top) + 8 + 30,
    box: { l: 42, t: r.top, r: 275, b: r.bottom },
    xr: r.x, xt: cycleTicks, yr: r.soh, yt: r.sohTicks,
    xs: d.cyc, lines: sohLines, lw: 1.1, fs: 10.5, tl: 3,
    xTitle: 'Cycles', yTitle: 'SOH (%)', yTitlePad: 4.5,
    shade: { x: r.inset.x, y: r.inset.y }
  });
  // right: absolute error
  makePanel({
    x: 272, y: r.top - 8, w: 278, h: (r.bottom - r.top) + 8 + 30,
    box: { l: 308, t: r.top, r: 542, b: r.bottom },
    xr: r.x, xt: cycleTicks, yr: r.err, yt: r.errTicks,
    xs: d.errCyc, lines: errLines, lw: 1.1, fs: 10.5, tl: 3,
    xTitle: 'Cycles', yTitle: 'Absolute Error (%)', yTitlePad: 3.5
  });
  // inset zoom
  makePanel({
    x: 56, y: r.inset.t - 5, w: 107, h: (r.inset.b - r.inset.t) + 5 + 12,
    box: { l: 76, t: r.inset.t, r: 157, b: r.inset.b },
    xr: r.inset.x, xt: r.inset.xt, yr: r.inset.y, yt: r.inset.yt,
    xs: d.cyc, lines: sohLines, lw: 0.9, fs: 7.5, tl: 2,
    inset: true
  });

  const tag = document.createElement('div');
  tag.className = 'lab';
  tag.style.left = '290px'; tag.style.top = r.tagY + 'px';
  tag.textContent = r.tag;
  document.body.appendChild(tag);
});

// legend: 5 columns x 2 rows, filled column by column
const legendLineX = [13, 103, 217, 322, 430];
const legendTextX = [42, 131, 245, 350, 458];
const legendRowY = [10, 23];
seriesNames.forEach((name, i) => {
  const col = Math.floor(i / 2), row = i % 2;
  const ln = document.createElement('div');
  ln.className = 'lg-line';
  ln.style.left = legendLineX[col] + 'px';
  ln.style.top = (legendRowY[row] - 0.6) + 'px';
  ln.style.background = seriesColors[i];
  document.body.appendChild(ln);
  const tx = document.createElement('div');
  tx.className = 'lg-text';
  tx.style.left = legendTextX[col] + 'px';
  tx.style.top = legendRowY[row] + 'px';
  tx.textContent = name;
  document.body.appendChild(tx);
});
</script>
</body>
</html>
